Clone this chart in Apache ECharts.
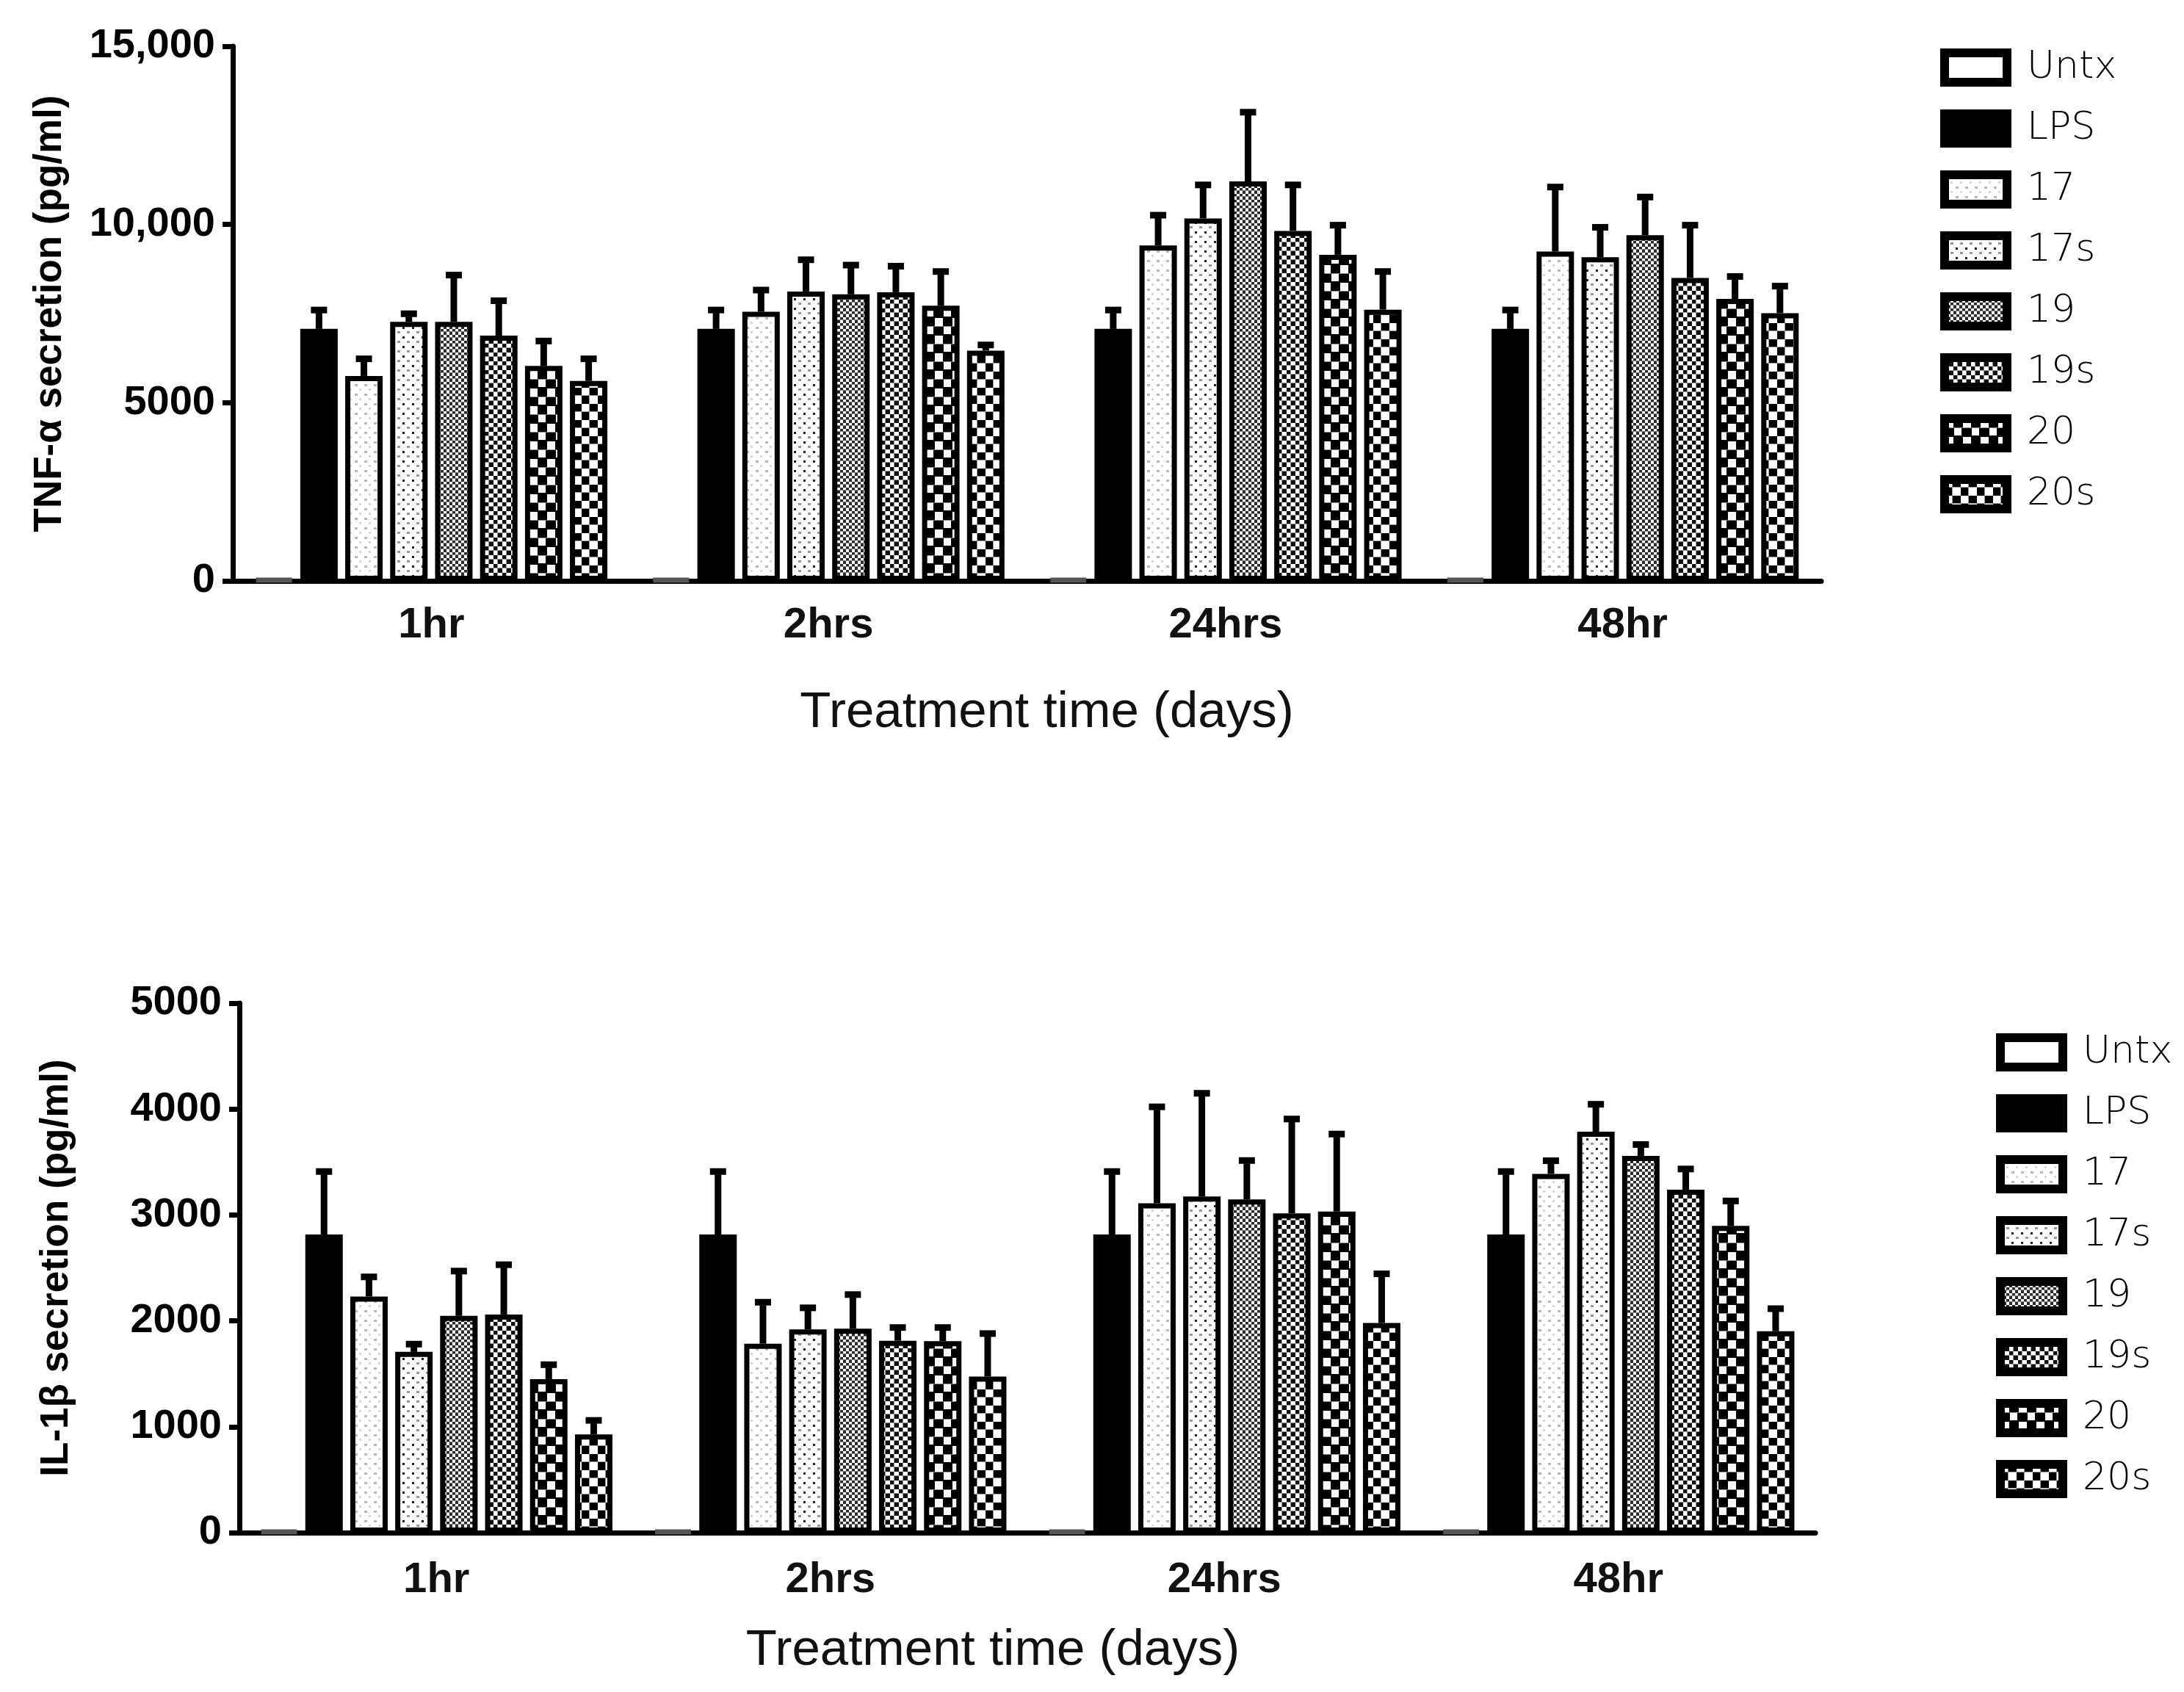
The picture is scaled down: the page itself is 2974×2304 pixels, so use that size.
<!DOCTYPE html>
<html>
<head>
<meta charset="utf-8">
<script src="https://cdn.jsdelivr.net/npm/echarts@6/dist/echarts.min.js"></script>
<style>html,body{margin:0;padding:0;background:#fff}#c{width:2974px;height:2304px}</style>
</head>
<body>
<div id="c"></div>
<script>
// ---- data ----
const categories = ['1hr', '2hrs', '24hrs', '48hr'];
const groups = ['Untx', 'LPS', '17', '17s', '19', '19s', '20', '20s'];

// TNF-α (pg/ml), one array per time point, in order of groups
const tnf_1hr   = [40, 7070, 5750, 7270, 7270, 6880, 6030, 5610];
const tnf_2hrs  = [40, 7070, 7550, 8120, 8040, 8100, 7720, 6460];
const tnf_24hrs = [40, 7070, 9410, 10170, 11210, 9820, 9150, 7610];
const tnf_48hr  = [40, 7070, 9240, 9080, 9700, 8500, 7910, 7510];
const tnfErr_1hr   = [0, 530, 480, 225, 1310, 980, 700, 620];
const tnfErr_2hrs  = [0, 530, 610, 890, 820, 730, 960, 160];
const tnfErr_24hrs = [0, 530, 850, 940, 1940, 1290, 830, 1070];
const tnfErr_48hr  = [0, 530, 1810, 840, 1070, 1480, 630, 760];

// IL-1β (pg/ml)
const il_1hr   = [15, 2815, 2230, 1707, 2047, 2060, 1450, 928];
const il_2hrs  = [15, 2815, 1784, 1919, 1926, 1812, 1809, 1473];
const il_24hrs = [15, 2815, 3111, 3175, 3147, 3015, 3032, 1980];
const il_48hr  = [15, 2815, 3388, 3786, 3558, 3239, 2897, 1902];
const ilErr_1hr   = [0, 595, 185, 73, 423, 470, 136, 132];
const ilErr_2hrs  = [0, 595, 392, 204, 322, 125, 128, 407];
const ilErr_24hrs = [0, 595, 910, 974, 367, 891, 732, 464];
const ilErr_48hr  = [0, 595, 124, 259, 107, 195, 235, 213];

const tnfTicks = [0, 5000, 10000, 15000];
const ilTicks = [0, 1000, 2000, 3000, 4000, 5000];

// ---- styling helpers ----
const BAR_W = 51, GAP = 0.2, PITCH = BAR_W * (1 + GAP);
const BOLD = '"Liberation Sans", Arial, sans-serif';
const NARROW = '"Liberation Sans Narrow", "Liberation Sans", Arial, sans-serif';

function pattern(w, h, draw) {
  const c = document.createElement('canvas');
  c.width = w; c.height = h;
  const g = c.getContext('2d');
  g.fillStyle = '#fff'; g.fillRect(0, 0, w, h);
  draw(g);
  return { image: c, repeat: 'repeat' };
}
const fills = [
  '#ffffff',
  '#000000',
  pattern(13, 13, g => { g.fillStyle = '#b8b8b8'; g.fillRect(2, 3, 4, 3); g.fillStyle = '#d8d8d8'; g.fillRect(8, 9, 3, 3); }),
  pattern(13, 13, g => { g.fillStyle = '#222'; g.fillRect(2, 3, 3, 3); g.fillStyle = '#999'; g.fillRect(8, 9, 4, 3); }),
  pattern(8, 8, g => { g.fillStyle = '#2a2a2a'; g.fillRect(0, 0, 4, 4); g.fillRect(4, 4, 4, 4); g.fillStyle = '#888'; g.fillRect(0, 3, 8, 1); }),
  pattern(12, 12, g => { g.fillStyle = '#111'; g.fillRect(0, 0, 6, 6); g.fillRect(6, 6, 6, 6); g.fillStyle = '#999'; g.fillRect(0, 5, 12, 1); g.fillRect(5, 0, 1, 12); }),
  pattern(24, 24, g => { g.fillStyle = '#000'; g.fillRect(0, 0, 24, 24); g.fillStyle = '#fff'; g.fillRect(1, 1, 11, 11); g.fillRect(13, 13, 10, 10); g.fillStyle = '#888'; g.fillRect(0, 12, 24, 1); }),
  pattern(22, 22, g => { g.fillStyle = '#000'; g.fillRect(11, 0, 11, 11); g.fillRect(0, 11, 11, 11); g.fillStyle = '#999'; g.fillRect(0, 10, 22, 1); g.fillRect(10, 0, 1, 22); })
];

const tnfMeans = [tnf_1hr, tnf_2hrs, tnf_24hrs, tnf_48hr];
const tnfErrs = [tnfErr_1hr, tnfErr_2hrs, tnfErr_24hrs, tnfErr_48hr];
const ilMeans = [il_1hr, il_2hrs, il_24hrs, il_48hr];
const ilErrs = [ilErr_1hr, ilErr_2hrs, ilErr_24hrs, ilErr_48hr];

function barSeries(means, axisIdx) {
  return groups.map((name, k) => ({
    name, type: 'bar', xAxisIndex: axisIdx, yAxisIndex: axisIdx,
    data: categories.map((_, c) => means[c][k]),
    barWidth: BAR_W, barGap: (GAP * 100) + '%',
    itemStyle: { color: fills[k], borderColor: k === 0 ? '#555' : '#000', borderWidth: 7 },
    emphasis: { disabled: true }, z: 2
  }));
}
function errSeries(means, errs, axisIdx, name) {
  const data = [];
  categories.forEach((_, c) => groups.forEach((_, k) => data.push([c, means[c][k], errs[c][k], k])));
  return {
    name, type: 'custom', xAxisIndex: axisIdx, yAxisIndex: axisIdx, z: 3,
    encode: { x: 0, y: 1 }, data,
    renderItem: (params, api) => {
      const c = api.value(0), v = api.value(1), e = api.value(2), k = api.value(3);
      if (!e) return null;
      const b = api.coord([c, v]);
      const t = api.coord([c, v + e]);
      const x = b[0] + (k - 3.5) * PITCH;
      return { type: 'group', children: [
        { type: 'line', shape: { x1: x, y1: b[1], x2: x, y2: t[1] + 4 }, style: { stroke: '#000', lineWidth: 9 } },
        { type: 'line', shape: { x1: x - 11, y1: t[1], x2: x + 11, y2: t[1] }, style: { stroke: '#000', lineWidth: 9 } }
      ] };
    }
  };
}

function xAxis(gridIndex, margin, nameGap, namePad) {
  return {
    type: 'category', gridIndex, data: categories,
    axisLine: { lineStyle: { color: '#000', width: 7 } },
    axisTick: { alignWithLabel: true, length: 20, lineStyle: { color: '#000', width: 7 } },
    axisLabel: { color: '#111', fontFamily: NARROW, fontWeight: 'bold', fontSize: 58, margin },
    name: 'Treatment time (days)', nameLocation: 'middle', nameGap,
    nameTextStyle: { color: '#111', fontFamily: NARROW, fontSize: 69, padding: namePad }
  };
}
function yAxis(gridIndex, max, interval, name, fmt) {
  return {
    type: 'value', gridIndex, min: 0, max, interval,
    axisLine: { show: true, lineStyle: { color: '#000', width: 7 } },
    axisTick: { show: true, length: 14, lineStyle: { color: '#000', width: 7 } },
    splitLine: { show: false },
    axisLabel: { color: '#000', fontFamily: BOLD, fontWeight: 'bold', fontSize: 56, margin: 24, formatter: fmt },
    name, nameLocation: 'middle', nameGap: 222, nameRotate: 90,
    nameTextStyle: { color: '#000', fontFamily: BOLD, fontWeight: 'bold', fontSize: 53 }
  };
}
function legend(left, top) {
  return {
    data: groups, orient: 'vertical', left, top, icon: 'rect',
    itemWidth: 85, itemHeight: 40, itemGap: 31, selectedMode: false,
    itemStyle: { borderWidth: 12, borderColor: '#000' },
    textStyle: { color: '#000', fontFamily: '"DejaVu Sans", sans-serif', fontWeight: 200, fontSize: 52, lineHeight: 40, padding: [0, 0, 0, 22] }
  };
}

const tnfFmt = v => (v >= 10000 ? v.toLocaleString('en-US') : String(v));

const chart = echarts.init(document.getElementById('c'));
chart.setOption({
  animation: false,
  backgroundColor: '#fff',
  grid: [
    { left: 317, top: 63, width: 2163, height: 728 },
    { left: 326, top: 1366, width: 2146, height: 721 }
  ],
  xAxis: [xAxis(0, 32, 145, [0, 0, 0, 54]), xAxis(1, 36, 126, [0, 94, 0, 0])],
  yAxis: [
    yAxis(0, tnfTicks[tnfTicks.length - 1], tnfTicks[1] - tnfTicks[0], 'TNF-α secretion (pg/ml)', tnfFmt),
    yAxis(1, ilTicks[ilTicks.length - 1], ilTicks[1] - ilTicks[0], 'IL-1β secretion (pg/ml)', v => String(v))
  ],
  legend: [legend(2637, 61), legend(2713, 1402)],
  series: [
    ...barSeries(tnfMeans, 0),
    errSeries(tnfMeans, tnfErrs, 0, 'tnf-err'),
    ...barSeries(ilMeans, 1),
    errSeries(ilMeans, ilErrs, 1, 'il-err')
  ]
});
</script>
</body>
</html>
